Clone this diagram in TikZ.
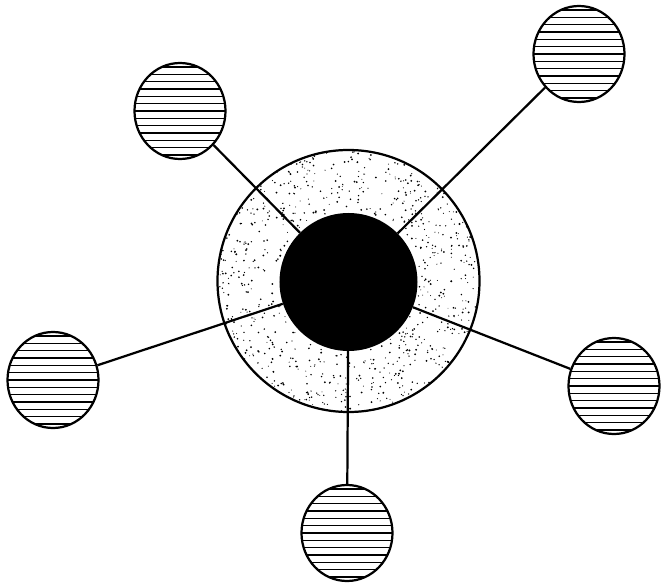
\documentclass[tikz,border=0pt]{standalone}
\usepackage{tikz}
\usetikzlibrary{shapes.geometric}

\begin{document}
\begin{tikzpicture}[x=0.03cm, y=-0.03cm,
    sat/.style={ellipse, draw, line width=1.9pt, inner sep=0pt,
        minimum width=2.73cm, minimum height=2.88cm,
        path picture={\foreach \k in {-6,...,6}
            \draw[line width=0.95pt] ([yshift=\k*0.22cm]path picture bounding box.west)
                -- ([yshift=\k*0.22cm]path picture bounding box.east);}},
    link/.style={line width=1.9pt}]
    \useasboundingbox (0,0) rectangle (661,585);

    % stippled shell and dense core
    \node[circle, draw, line width=1.9pt, minimum size=7.86cm, inner sep=0pt] (ring) at (348.5,281) {};
    \pgfmathsetseed{17}
    \foreach \i in {1,...,750}{
        \pgfmathsetmacro{\ang}{360*rnd}
        \pgfmathsetmacro{\rad}{100*sqrt(0.5041+rnd*(1.69-0.5041))}
        \pgfmathsetmacro{\dr}{0.4+0.5*rnd}
        \fill (ring.center) ++(\ang:\rad) circle[radius=\dr pt];
    }
    \node[circle, fill=black, minimum size=4.14cm, inner sep=0pt] (core) at (348.5,282) {};

    % satellites
    \node[sat] (tl) at (180,111) {};
    \node[sat] (tr) at (579,54) {};
    \node[sat] (lf) at (53,380) {};
    \node[sat] (rt) at (614,386) {};
    \node[sat] (bt) at (347,533) {};

    \draw[link] (tl) -- (core);
    \draw[link] (tr) -- (core);
    \draw[link] (lf) -- (core);
    \draw[link] (rt) -- (core);
    \draw[link] (bt) -- (core);
\end{tikzpicture}
\end{document}
